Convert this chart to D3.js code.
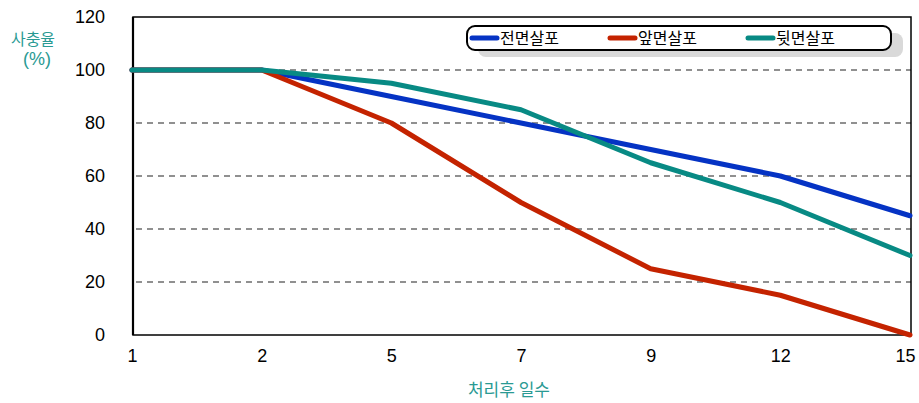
<!DOCTYPE html>
<html>
<head>
<meta charset="utf-8">
<script src="https://cdn.jsdelivr.net/npm/d3@7"></script>
<style>
  html, body { margin: 0; padding: 0; background: #fff; }
  svg { display: block; font-family: "Liberation Sans", Arial, "Noto Sans CJK KR", sans-serif; }
</style>
</head>
<body>
<svg id="chart" width="919" height="403"></svg>
<script>
// Days after treatment (categorical, evenly spaced)
const days = ["1", "2", "5", "7", "9", "12", "15"];
// Mortality (%) per application method
const fullSpray  = [100, 100, 90, 80, 70, 60, 45];
const frontSpray = [100, 100, 80, 50, 25, 15, 0];
const backSpray  = [100, 100, 95, 85, 65, 50, 30];
const seriesNames = ["전면살포", "앞면살포", "뒷면살포"];
const seriesColors = ["#0533c4", "#c42300", "#088a84"];
const yTicks = [0, 20, 40, 60, 80, 100, 120];

const series = [fullSpray, frontSpray, backSpray].map((values, i) => ({
  name: seriesNames[i], color: seriesColors[i], values
}));

const svg = d3.select("#chart");
const plotL = 133, plotR = 911, plotT = 17, plotB = 335;

const x = d3.scalePoint().domain(days).range([plotL - 1, plotR - 1]);
const y = d3.scaleLinear().domain([0, 120]).range([plotB, plotT]);

// Dashed horizontal gridlines
svg.append("g").selectAll("line")
  .data(yTicks.filter(t => t > 0 && t < 120))
  .join("line")
  .attr("x1", plotL + 3).attr("x2", plotR)
  .attr("y1", d => y(d)).attr("y2", d => y(d))
  .attr("stroke", "#222").attr("stroke-width", 1.2)
  .attr("stroke-dasharray", "6,5");

// Plot frame
svg.append("rect")
  .attr("x", plotL).attr("y", plotT)
  .attr("width", plotR - plotL).attr("height", plotB - plotT)
  .attr("fill", "none").attr("stroke", "#000").attr("stroke-width", 1.5);
svg.append("line")
  .attr("x1", plotL).attr("x2", plotL).attr("y1", plotT).attr("y2", plotB)
  .attr("stroke", "#000").attr("stroke-width", 2.2);

// Y axis labels
const yAxis = d3.axisLeft(y).tickValues(yTicks).tickSize(0).tickPadding(28);
const gy = svg.append("g").attr("transform", `translate(${plotL},0)`).call(yAxis);
gy.select(".domain").remove();
gy.selectAll("text").attr("font-size", 18).attr("fill", "#000")
  .attr("font-family", "Liberation Sans, Arial, sans-serif");

// X axis labels (the last one is nudged inward to stay inside the page)
const xAxis = d3.axisBottom(x).tickSize(0).tickPadding(14);
const gx = svg.append("g").attr("transform", `translate(0,${plotB})`).call(xAxis);
gx.select(".domain").remove();
gx.selectAll("text").attr("font-size", 18).attr("fill", "#000")
  .attr("font-family", "Liberation Sans, Arial, sans-serif")
  .attr("dx", d => d === days[days.length - 1] ? -5 : 0);

// Lines
const line = d3.line().x((d, i) => x(days[i])).y(d => y(d));
svg.append("g").selectAll("path")
  .data(series)
  .join("path")
  .attr("d", d => line(d.values))
  .attr("fill", "none")
  .attr("stroke", d => d.color)
  .attr("stroke-width", 5)
  .attr("stroke-linejoin", "round")
  .attr("stroke-linecap", "round");

// Axis titles
const titleColor = "#2a9a93";
svg.append("text").attr("x", 33).attr("y", 45).attr("text-anchor", "middle")
  .attr("font-size", 16).attr("fill", titleColor)
  .attr("font-family", "Noto Sans CJK KR, sans-serif").text("사충율");
svg.append("text").attr("x", 37).attr("y", 65).attr("text-anchor", "middle")
  .attr("font-size", 18).attr("fill", titleColor)
  .attr("font-family", "Liberation Sans, Arial, sans-serif").text("(%)");
svg.append("text").attr("x", 509).attr("y", 396).attr("text-anchor", "middle")
  .attr("font-size", 17).attr("fill", titleColor)
  .attr("font-family", "Noto Sans CJK KR, sans-serif").text("처리후 일수");

// Legend with drop shadow
const lg = svg.append("g");
lg.append("rect").attr("x", 478).attr("y", 33).attr("width", 425).attr("height", 24)
  .attr("rx", 8).attr("fill", "#d9d9d9");
lg.append("rect").attr("x", 467).attr("y", 26).attr("width", 424).attr("height", 24)
  .attr("rx", 8).attr("fill", "#fff").attr("stroke", "#000").attr("stroke-width", 2);
const itemX = [470, 608, 746];
series.forEach((s, i) => {
  lg.append("line").attr("x1", itemX[i] + 2).attr("x2", itemX[i] + 27)
    .attr("y1", 38).attr("y2", 38)
    .attr("stroke", s.color).attr("stroke-width", 5).attr("stroke-linecap", "round");
  lg.append("text").attr("x", itemX[i] + 30).attr("y", 44)
    .attr("font-size", 16).attr("fill", "#000")
    .attr("font-family", "Noto Sans CJK KR, sans-serif").text(s.name);
});
</script>
</body>
</html>
